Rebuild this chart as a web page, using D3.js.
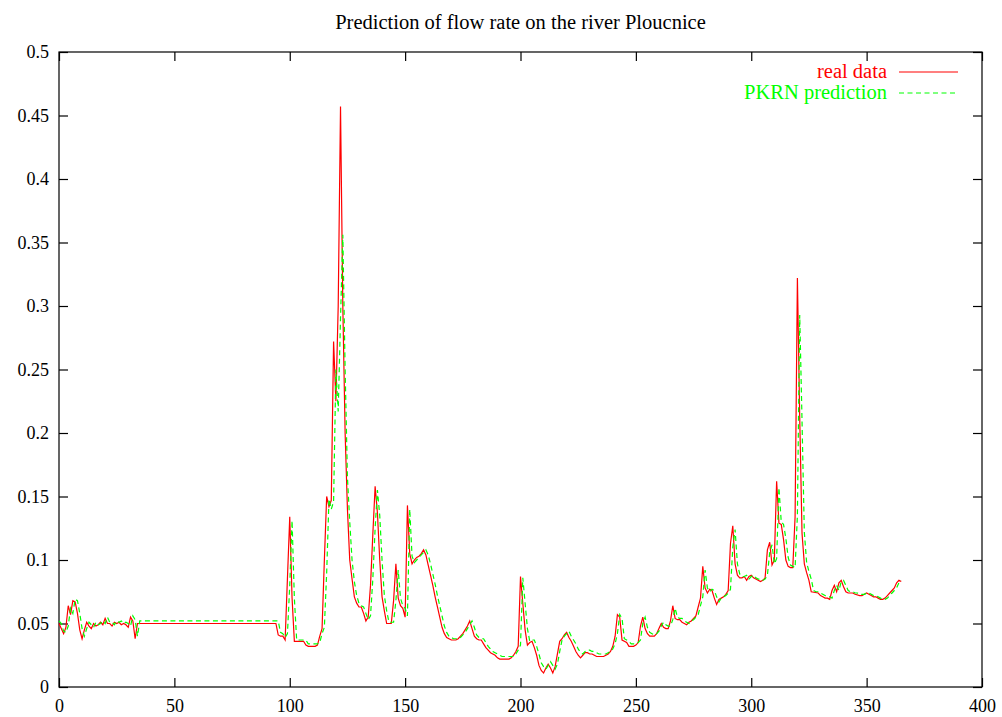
<!DOCTYPE html>
<html>
<head>
<meta charset="utf-8">
<script src="https://cdn.jsdelivr.net/npm/d3@7"></script>
<style>
  body { margin: 0; background: #fff; }
  text { font-family: "Liberation Serif", "DejaVu Serif", serif; }
</style>
</head>
<body>
<div id="chart"></div>
<script>
// [day, flow] vertices
var realData = [
  [0,0.050],[2,0.042],[3,0.047],[4,0.064],[5,0.057],[6,0.068],[7,0.067],[8,0.058],[9,0.045],[10,0.038],
  [11,0.045],[12,0.051],[13,0.048],[14,0.046],[15,0.050],[16,0.048],[17,0.049],[18,0.051],[19,0.049],[20,0.054],
  [21,0.050],[22,0.050],[23,0.048],[24,0.051],[25,0.050],[26,0.051],[27,0.049],[28,0.050],[29,0.049],[30,0.047],
  [31,0.055],[32,0.052],[33,0.038],[34,0.050],[94,0.050],[95,0.041],[96,0.040],[97,0.040],[98,0.037],[100,0.134],
  [101,0.070],[102,0.036],[106,0.036],[107,0.033],[108,0.032],[111,0.032],[112,0.033],[113,0.040],[114,0.046],[115,0.100],
  [116,0.150],[117,0.142],[118,0.147],[119,0.272],[120,0.225],[121,0.300],[122,0.457],[123,0.300],[124,0.200],[125,0.140],
  [126,0.100],[127,0.085],[128,0.071],[129,0.066],[130,0.063],[131,0.063],[132,0.058],[133,0.052],[134,0.055],[135,0.080],
  [136,0.120],[137,0.158],[138,0.137],[139,0.100],[140,0.071],[141,0.060],[142,0.050],[144,0.050],[145,0.068],[146,0.097],
  [147,0.070],[148,0.064],[149,0.062],[150,0.055],[151,0.143],[152,0.105],[153,0.097],[154,0.100],[155,0.102],[156,0.103],
  [157,0.105],[158,0.108],[159,0.104],[160,0.096],[161,0.088],[162,0.080],[163,0.071],[164,0.063],[165,0.055],[166,0.047],
  [167,0.042],[168,0.039],[169,0.038],[170,0.037],[172,0.037],[173,0.038],[174,0.040],[175,0.042],[176,0.045],[177,0.048],
  [178,0.052],[179,0.046],[180,0.040],[181,0.038],[182,0.037],[183,0.037],[184,0.034],[185,0.031],[186,0.029],[187,0.027],
  [188,0.026],[189,0.025],[190,0.023],[191,0.022],[195,0.022],[196,0.023],[197,0.025],[198,0.028],[199,0.032],[200,0.087],
  [201,0.066],[202,0.045],[203,0.033],[204,0.035],[205,0.036],[206,0.031],[207,0.025],[208,0.017],[209,0.013],[210,0.011],
  [211,0.015],[212,0.018],[213,0.015],[214,0.011],[215,0.016],[216,0.026],[217,0.036],[218,0.038],[219,0.041],[220,0.043],
  [221,0.039],[222,0.036],[223,0.032],[224,0.028],[225,0.025],[226,0.023],[227,0.025],[228,0.027],[229,0.027],[230,0.026],
  [231,0.026],[232,0.025],[233,0.024],[236,0.024],[237,0.025],[238,0.026],[239,0.028],[240,0.032],[241,0.040],[242,0.057],
  [243,0.055],[244,0.037],[245,0.036],[246,0.035],[247,0.032],[249,0.032],[250,0.033],[251,0.035],[252,0.048],[253,0.055],
  [254,0.046],[255,0.042],[256,0.040],[258,0.040],[259,0.042],[260,0.046],[261,0.050],[262,0.047],[263,0.046],[264,0.046],
  [265,0.052],[266,0.064],[267,0.054],[268,0.053],[269,0.053],[270,0.051],[271,0.050],[272,0.049],[273,0.051],[274,0.052],
  [275,0.054],[276,0.056],[277,0.063],[278,0.070],[279,0.095],[280,0.078],[281,0.074],[282,0.077],[283,0.076],[284,0.070],
  [285,0.065],[286,0.069],[287,0.070],[288,0.071],[289,0.073],[290,0.076],[291,0.113],[292,0.127],[293,0.097],[294,0.088],
  [295,0.086],[296,0.086],[297,0.087],[298,0.084],[299,0.087],[300,0.088],[301,0.086],[302,0.085],[303,0.084],[304,0.083],
  [305,0.084],[306,0.086],[307,0.108],[308,0.114],[309,0.096],[310,0.100],[311,0.162],[312,0.129],[313,0.128],[314,0.116],
  [315,0.100],[316,0.095],[317,0.094],[318,0.094],[319,0.134],[320,0.322],[321,0.213],[322,0.121],[323,0.097],[324,0.090],
  [325,0.084],[326,0.075],[329,0.074],[330,0.072],[331,0.071],[332,0.070],[333,0.070],[334,0.069],[335,0.076],[336,0.080],
  [337,0.075],[338,0.082],[339,0.084],[340,0.079],[341,0.075],[342,0.074],[344,0.074],[345,0.073],[347,0.072],[348,0.072],
  [349,0.073],[350,0.074],[351,0.073],[352,0.072],[353,0.071],[354,0.071],[355,0.070],[356,0.069],[357,0.069],[358,0.070],
  [359,0.072],[360,0.074],[361,0.076],[362,0.078],[363,0.082],[364,0.084],[365,0.083]
];

var predData = [
  [0,0.052],[1,0.050],[2,0.044],[3,0.043],[4,0.048],[5,0.062],[6,0.058],[7,0.069],[8,0.068],[9,0.058],
  [10,0.046],[11,0.040],[12,0.046],[13,0.051],[14,0.049],[15,0.047],[16,0.051],[17,0.049],[18,0.050],[19,0.052],
  [20,0.050],[21,0.055],[22,0.051],[23,0.051],[24,0.049],[25,0.052],[26,0.051],[27,0.052],[28,0.050],[29,0.051],
  [30,0.050],[31,0.048],[32,0.056],[33,0.053],[34,0.040],[35,0.052],[95,0.052],[96,0.043],[97,0.042],[98,0.039],
  [99,0.042],[100,0.080],[101,0.131],[102,0.070],[103,0.037],[107,0.037],[108,0.034],[112,0.034],[113,0.035],[114,0.042],
  [115,0.047],[116,0.090],[117,0.148],[118,0.140],[119,0.146],[120,0.250],[121,0.217],[122,0.290],[123,0.356],[124,0.250],
  [125,0.165],[126,0.130],[127,0.100],[128,0.083],[129,0.072],[130,0.066],[131,0.064],[132,0.063],[133,0.058],[134,0.053],
  [135,0.056],[136,0.085],[137,0.125],[138,0.155],[139,0.135],[140,0.100],[141,0.072],[142,0.060],[143,0.051],[145,0.051],
  [146,0.068],[147,0.092],[148,0.070],[149,0.064],[150,0.062],[151,0.056],[152,0.140],[153,0.103],[154,0.098],[155,0.100],
  [156,0.102],[157,0.104],[158,0.106],[159,0.108],[160,0.104],[161,0.097],[162,0.089],[163,0.081],[164,0.072],[165,0.064],
  [166,0.056],[167,0.048],[168,0.043],[169,0.040],[170,0.039],[171,0.038],[173,0.038],[174,0.039],[175,0.041],[176,0.043],
  [177,0.046],[178,0.049],[179,0.052],[180,0.047],[181,0.041],[182,0.039],[183,0.038],[184,0.038],[185,0.035],[186,0.032],
  [187,0.030],[188,0.028],[189,0.027],[190,0.026],[191,0.025],[192,0.024],[197,0.024],[198,0.026],[199,0.029],[200,0.033],
  [201,0.086],[202,0.066],[203,0.046],[204,0.036],[205,0.037],[206,0.037],[207,0.032],[208,0.026],[209,0.019],[210,0.016],
  [211,0.014],[212,0.017],[213,0.020],[214,0.017],[215,0.014],[216,0.018],[217,0.028],[218,0.037],[219,0.040],[220,0.042],
  [221,0.044],[222,0.040],[223,0.037],[224,0.034],[225,0.030],[226,0.027],[227,0.026],[228,0.028],[229,0.029],[230,0.029],
  [231,0.028],[232,0.028],[233,0.027],[234,0.026],[237,0.026],[238,0.027],[239,0.028],[240,0.030],[241,0.034],[242,0.042],
  [243,0.057],[244,0.054],[245,0.038],[246,0.037],[247,0.036],[248,0.034],[250,0.034],[251,0.035],[252,0.037],[253,0.050],
  [254,0.055],[255,0.047],[256,0.043],[257,0.042],[258,0.041],[259,0.042],[260,0.044],[261,0.048],[262,0.051],[263,0.049],
  [264,0.048],[265,0.048],[266,0.053],[267,0.062],[268,0.055],[269,0.054],[270,0.054],[271,0.052],[272,0.051],[273,0.050],
  [274,0.052],[275,0.053],[276,0.055],[277,0.057],[278,0.064],[279,0.071],[280,0.092],[281,0.078],[282,0.075],[283,0.077],
  [284,0.076],[285,0.071],[286,0.067],[287,0.070],[288,0.071],[289,0.072],[290,0.074],[291,0.077],[292,0.110],[293,0.124],
  [294,0.097],[295,0.089],[296,0.087],[297,0.087],[298,0.088],[299,0.085],[300,0.087],[301,0.088],[302,0.086],[303,0.085],
  [304,0.085],[305,0.084],[306,0.085],[307,0.088],[308,0.106],[309,0.112],[310,0.097],[311,0.101],[312,0.157],[313,0.130],
  [314,0.128],[315,0.117],[316,0.102],[317,0.096],[318,0.095],[319,0.094],[320,0.135],[321,0.293],[322,0.210],[323,0.122],
  [324,0.098],[325,0.091],[326,0.085],[327,0.076],[328,0.075],[329,0.075],[330,0.074],[331,0.073],[332,0.072],[333,0.071],
  [334,0.071],[335,0.070],[336,0.076],[337,0.080],[338,0.076],[339,0.083],[340,0.084],[341,0.080],[342,0.076],[343,0.075],
  [344,0.075],[345,0.074],[346,0.074],[347,0.073],[349,0.073],[350,0.074],[351,0.074],[352,0.073],[353,0.072],[354,0.072],
  [355,0.071],[356,0.070],[357,0.069],[358,0.069],[359,0.070],[360,0.072],[361,0.074],[362,0.076],[363,0.078],[364,0.082],
  [365,0.084]
];

var xTicks = [0, 50, 100, 150, 200, 250, 300, 350, 400];
var yTicks = [0, 0.05, 0.1, 0.15, 0.2, 0.25, 0.3, 0.35, 0.4, 0.45, 0.5];
var seriesNames = ["real data", "PKRN prediction"];
var seriesColors = ["#ff0000", "#00ff00"];

var svgWidth = 1002;
var svgHeight = 717;
var margin = { top: 52, right: 20, bottom: 30, left: 59 };
var chartWidth = 982 - margin.left;
var chartHeight = 687 - margin.top;

var svg = d3.select("#chart")
    .append("svg")
    .attr("width", svgWidth)
    .attr("height", svgHeight);

var chartGroup = svg.append("g")
    .attr("transform", `translate(${margin.left}, ${margin.top})`);

var x = d3.scaleLinear().domain([0, 400]).range([0, chartWidth]);
var y = d3.scaleLinear().domain([0, 0.5]).range([chartHeight, 0]);

// title
svg.append("text")
    .attr("x", margin.left + chartWidth / 2)
    .attr("y", 29)
    .attr("text-anchor", "middle")
    .style("font-size", "20.5px")
    .text("Prediction of flow rate on the river Ploucnice");

// axes: inward ticks, mirrored on top and right like gnuplot
var tickLen = 9;
var fmtY = d => d === 0 ? "0" : String(+d.toFixed(2));

var bottom = chartGroup.append("g")
    .attr("transform", `translate(0,${chartHeight})`)
    .call(d3.axisBottom(x).tickValues(xTicks).tickSize(-tickLen).tickPadding(12).tickSizeOuter(0));
var top = chartGroup.append("g")
    .call(d3.axisTop(x).tickValues(xTicks).tickSize(-tickLen).tickFormat("").tickSizeOuter(0));
var left = chartGroup.append("g")
    .call(d3.axisLeft(y).tickValues(yTicks).tickSize(-tickLen).tickPadding(10).tickFormat(fmtY).tickSizeOuter(0));
var right = chartGroup.append("g")
    .attr("transform", `translate(${chartWidth},0)`)
    .call(d3.axisRight(y).tickValues(yTicks).tickSize(-tickLen).tickFormat("").tickSizeOuter(0));

chartGroup.selectAll(".domain").remove();
chartGroup.selectAll(".tick line").attr("stroke", "#000").attr("stroke-width", 1.2);
chartGroup.selectAll(".tick text")
    .attr("fill", "#000")
    .style("font-family", "'Liberation Serif', serif")
    .style("font-size", "18px");

// frame
chartGroup.append("rect")
    .attr("width", chartWidth)
    .attr("height", chartHeight)
    .attr("fill", "none")
    .attr("stroke", "#000")
    .attr("stroke-width", 1.2);

var line = d3.line()
    .x(d => x(d[0]))
    .y(d => y(d[1]));

chartGroup.append("path")
    .datum(realData)
    .attr("d", line)
    .attr("fill", "none")
    .attr("stroke", seriesColors[0])
    .attr("stroke-width", 1.2);

chartGroup.append("path")
    .datum(predData)
    .attr("d", line)
    .attr("fill", "none")
    .attr("stroke", seriesColors[1])
    .attr("stroke-width", 1.2)
    .attr("stroke-dasharray", "5,3.5");

// legend
var legend = svg.append("g");
seriesNames.forEach(function (name, i) {
    var ly = 72 + i * 21;
    legend.append("text")
        .attr("x", 887)
        .attr("y", ly + 6)
        .attr("text-anchor", "end")
        .attr("fill", seriesColors[i])
        .style("font-size", "20.5px")
        .text(name);
    legend.append("line")
        .attr("x1", 899).attr("x2", 958)
        .attr("y1", ly).attr("y2", ly)
        .attr("stroke", seriesColors[i])
        .attr("stroke-width", 1.2)
        .attr("stroke-dasharray", i === 1 ? "5,3.5" : null);
});
</script>
</body>
</html>
